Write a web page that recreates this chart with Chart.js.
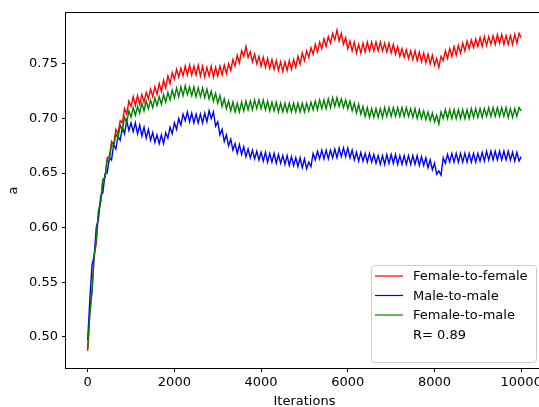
<!DOCTYPE html>
<html>
<head>
<meta charset="utf-8">
<script src="https://cdn.jsdelivr.net/npm/chart.js@4/dist/chart.umd.min.js"></script>
<style>
  html, body { margin: 0; padding: 0; background: #fff; overflow: hidden; }
  canvas { display: block; }
</style>
</head>
<body>
<canvas id="chart" width="545" height="407"></canvas>
<script>
// iterations sampled every 50 steps, 0 .. 10000
const STEP = 50;
const iterations = Array.from({ length: 201 }, (_, i) => i * STEP);

const femaleToFemale = [
  0.487, 0.522, 0.543, 0.574, 0.586, 0.614, 0.623, 0.644, 0.646, 0.664,
  0.665, 0.679, 0.676, 0.690, 0.686, 0.698, 0.696, 0.709, 0.704, 0.716,
  0.711, 0.720, 0.712, 0.721, 0.713, 0.722, 0.715, 0.724, 0.718, 0.727,
  0.720, 0.729, 0.722, 0.732, 0.725, 0.735, 0.728, 0.739, 0.732, 0.742,
  0.736, 0.745, 0.738, 0.746, 0.739, 0.748, 0.740, 0.749, 0.740, 0.748,
  0.740, 0.749, 0.739, 0.748, 0.738, 0.747, 0.739, 0.748, 0.738, 0.747,
  0.739, 0.748, 0.740, 0.749, 0.741, 0.750, 0.744, 0.754, 0.748, 0.758,
  0.751, 0.762, 0.757, 0.766, 0.756, 0.761, 0.752, 0.759, 0.750, 0.757,
  0.748, 0.756, 0.747, 0.755, 0.746, 0.754, 0.745, 0.753, 0.744, 0.752,
  0.743, 0.752, 0.744, 0.753, 0.745, 0.754, 0.747, 0.757, 0.750, 0.760,
  0.753, 0.762, 0.756, 0.765, 0.759, 0.768, 0.761, 0.770, 0.764, 0.773,
  0.766, 0.775, 0.769, 0.778, 0.772, 0.781, 0.771, 0.778, 0.768, 0.774,
  0.764, 0.771, 0.762, 0.770, 0.760, 0.768, 0.760, 0.769, 0.761, 0.770,
  0.762, 0.770, 0.762, 0.770, 0.762, 0.770, 0.762, 0.769, 0.761, 0.769,
  0.760, 0.768, 0.759, 0.766, 0.757, 0.764, 0.756, 0.763, 0.755, 0.762,
  0.754, 0.762, 0.753, 0.761, 0.752, 0.760, 0.751, 0.759, 0.750, 0.758,
  0.749, 0.755, 0.747, 0.757, 0.753, 0.762, 0.755, 0.764, 0.757, 0.766,
  0.758, 0.767, 0.760, 0.769, 0.762, 0.771, 0.764, 0.772, 0.765, 0.773,
  0.766, 0.774, 0.766, 0.775, 0.767, 0.775, 0.768, 0.776, 0.768, 0.777,
  0.769, 0.777, 0.768, 0.776, 0.768, 0.776, 0.768, 0.777, 0.769, 0.778,
  0.774
];

const maleToMale = [
  0.497, 0.534, 0.566, 0.574, 0.601, 0.608, 0.629, 0.632, 0.649, 0.650,
  0.664, 0.662, 0.676, 0.672, 0.684, 0.680, 0.692, 0.686, 0.698, 0.689,
  0.696, 0.688, 0.696, 0.686, 0.694, 0.684, 0.692, 0.682, 0.690, 0.680,
  0.687, 0.678, 0.685, 0.677, 0.685, 0.677, 0.687, 0.682, 0.692, 0.686,
  0.696, 0.690, 0.700, 0.694, 0.704, 0.698, 0.706, 0.697, 0.705, 0.696,
  0.704, 0.696, 0.704, 0.696, 0.705, 0.697, 0.707, 0.700, 0.706, 0.693,
  0.697, 0.685, 0.690, 0.679, 0.685, 0.675, 0.681, 0.671, 0.677, 0.668,
  0.676, 0.667, 0.674, 0.665, 0.672, 0.664, 0.671, 0.663, 0.670, 0.662,
  0.669, 0.661, 0.669, 0.660, 0.668, 0.660, 0.668, 0.659, 0.667, 0.659,
  0.666, 0.658, 0.666, 0.657, 0.665, 0.657, 0.664, 0.656, 0.664, 0.655,
  0.663, 0.654, 0.660, 0.656, 0.668, 0.662, 0.670, 0.663, 0.671, 0.663,
  0.671, 0.663, 0.671, 0.664, 0.672, 0.664, 0.673, 0.665, 0.673, 0.665,
  0.673, 0.664, 0.671, 0.662, 0.669, 0.661, 0.669, 0.661, 0.668, 0.660,
  0.668, 0.660, 0.667, 0.659, 0.666, 0.658, 0.666, 0.658, 0.667, 0.659,
  0.667, 0.659, 0.667, 0.658, 0.666, 0.658, 0.666, 0.658, 0.666, 0.658,
  0.666, 0.658, 0.666, 0.657, 0.665, 0.657, 0.664, 0.655, 0.662, 0.653,
  0.659, 0.649, 0.652, 0.648, 0.664, 0.659, 0.667, 0.660, 0.668, 0.660,
  0.668, 0.660, 0.668, 0.660, 0.668, 0.660, 0.668, 0.660, 0.668, 0.660,
  0.668, 0.661, 0.669, 0.661, 0.670, 0.662, 0.670, 0.662, 0.670, 0.662,
  0.670, 0.662, 0.670, 0.662, 0.670, 0.662, 0.669, 0.661, 0.669, 0.661,
  0.665
];

const femaleToMale = [
  0.489, 0.521, 0.541, 0.574, 0.591, 0.616, 0.624, 0.644, 0.646, 0.662,
  0.661, 0.676, 0.674, 0.686, 0.682, 0.694, 0.689, 0.701, 0.696, 0.707,
  0.701, 0.710, 0.703, 0.711, 0.705, 0.714, 0.707, 0.716, 0.709, 0.717,
  0.710, 0.719, 0.712, 0.720, 0.713, 0.722, 0.715, 0.724, 0.717, 0.726,
  0.719, 0.728, 0.720, 0.729, 0.721, 0.730, 0.722, 0.729, 0.721, 0.729,
  0.720, 0.728, 0.720, 0.728, 0.719, 0.727, 0.718, 0.725, 0.716, 0.723,
  0.714, 0.721, 0.711, 0.718, 0.709, 0.716, 0.707, 0.715, 0.706, 0.714,
  0.706, 0.715, 0.707, 0.716, 0.708, 0.716, 0.708, 0.717, 0.709, 0.717,
  0.709, 0.717, 0.708, 0.716, 0.707, 0.715, 0.707, 0.715, 0.706, 0.714,
  0.706, 0.714, 0.706, 0.714, 0.706, 0.714, 0.706, 0.714, 0.706, 0.714,
  0.706, 0.714, 0.707, 0.715, 0.708, 0.716, 0.708, 0.717, 0.709, 0.717,
  0.709, 0.718, 0.710, 0.719, 0.711, 0.719, 0.711, 0.718, 0.710, 0.717,
  0.709, 0.716, 0.707, 0.714, 0.705, 0.713, 0.704, 0.711, 0.702, 0.710,
  0.701, 0.709, 0.701, 0.709, 0.701, 0.709, 0.701, 0.710, 0.702, 0.710,
  0.702, 0.710, 0.702, 0.710, 0.702, 0.710, 0.702, 0.710, 0.702, 0.709,
  0.701, 0.709, 0.700, 0.708, 0.700, 0.707, 0.699, 0.706, 0.698, 0.705,
  0.697, 0.703, 0.695, 0.706, 0.700, 0.708, 0.700, 0.708, 0.700, 0.708,
  0.700, 0.708, 0.700, 0.708, 0.700, 0.708, 0.700, 0.709, 0.701, 0.709,
  0.701, 0.709, 0.701, 0.709, 0.702, 0.710, 0.702, 0.710, 0.702, 0.710,
  0.702, 0.710, 0.702, 0.710, 0.701, 0.709, 0.701, 0.709, 0.702, 0.710,
  0.707
];

const xTicks = [0, 2000, 4000, 6000, 8000, 10000];
const yTicks = [0.50, 0.55, 0.60, 0.65, 0.70, 0.75];
const rText = 'R= 0.89';

const FONT = '"DejaVu Sans", sans-serif';
const FSIZE = 13;

const toPoints = (vals) => vals.map((v, i) => ({ x: iterations[i], y: v }));

// matplotlib-like frame around the axes
const framePlugin = {
  id: 'frame',
  afterDatasetsDraw(chart) {
    const { ctx, chartArea: a } = chart;
    ctx.save();
    ctx.strokeStyle = '#000';
    ctx.lineWidth = 1;
    ctx.strokeRect(Math.round(a.left) - 0.5, Math.round(a.top) - 0.5,
      Math.round(a.right - a.left) + 1, Math.round(a.bottom - a.top) + 1);
    ctx.restore();
  }
};

// legend box inside the axes, bottom right
const legendPlugin = {
  id: 'boxLegend',
  afterDraw(chart) {
    const ctx = chart.ctx;
    const x = 371, y = 265, w = 165, h = 97;
    ctx.save();
    ctx.beginPath();
    ctx.roundRect(x + 0.5, y + 0.5, w, h, 3);
    ctx.fillStyle = 'rgba(255,255,255,0.8)';
    ctx.fill();
    ctx.strokeStyle = '#cccccc';
    ctx.lineWidth = 1;
    ctx.stroke();
    ctx.font = FSIZE + 'px ' + FONT;
    ctx.textBaseline = 'middle';
    ctx.textAlign = 'left';
    const rows = [276, 295.5, 315, 334.5];
    chart.data.datasets.forEach((ds, i) => {
      ctx.strokeStyle = ds.borderColor;
      ctx.lineWidth = 1.2;
      ctx.beginPath();
      ctx.moveTo(375, rows[i]);
      ctx.lineTo(403, rows[i]);
      ctx.stroke();
      ctx.fillStyle = '#000';
      ctx.fillText(ds.label, 413, rows[i] + 1);
    });
    ctx.fillStyle = '#000';
    ctx.fillText(rText, 413, rows[3] + 1);
    ctx.restore();
  }
};

new Chart(document.getElementById('chart'), {
  type: 'line',
  data: {
    datasets: [
      { label: 'Female-to-female', data: toPoints(femaleToFemale), borderColor: '#ff0000', order: 3 },
      { label: 'Male-to-male', data: toPoints(maleToMale), borderColor: '#0000ff', order: 2 },
      { label: 'Female-to-male', data: toPoints(femaleToMale), borderColor: '#008000', order: 1 }
    ]
  },
  options: {
    responsive: false,
    animation: false,
    events: [],
    layout: { padding: { top: 13, right: 2, left: 0, bottom: 0 } },
    elements: {
      line: { borderWidth: 1.4, tension: 0, fill: false },
      point: { radius: 0 }
    },
    plugins: {
      legend: { display: false },
      tooltip: { enabled: false }
    },
    scales: {
      x: {
        type: 'linear',
        min: -500,
        max: 10500,
        afterFit(scale) { scale.height = 39; },
        afterBuildTicks(scale) { scale.ticks = xTicks.map(v => ({ value: v })); },
        border: { display: false },
        grid: { drawOnChartArea: false, drawTicks: true, tickLength: 4, color: '#000', tickWidth: 1 },
        ticks: {
          padding: 3,
          color: '#000',
          font: { family: FONT, size: FSIZE },
          maxRotation: 0,
          callback: (v) => String(v)
        },
        title: {
          display: true,
          text: 'Iterations',
          color: '#000',
          font: { family: FONT, size: FSIZE },
          padding: { top: 0, bottom: -2 }
        }
      },
      y: {
        type: 'linear',
        min: 0.4713,
        max: 0.7967,
        afterFit(scale) { scale.width = 66; },
        afterBuildTicks(scale) { scale.ticks = yTicks.map(v => ({ value: v })); },
        border: { display: false },
        grid: { drawOnChartArea: false, drawTicks: true, tickLength: 4, color: '#000', tickWidth: 1 },
        ticks: {
          padding: 4,
          color: '#000',
          font: { family: FONT, size: FSIZE },
          callback: (v) => v.toFixed(2)
        },
        title: {
          display: true,
          text: 'a',
          color: '#000',
          font: { family: FONT, size: FSIZE },
          padding: { top: 6, bottom: 0 }
        }
      }
    }
  },
  plugins: [framePlugin, legendPlugin]
});
</script>
</body>
</html>
